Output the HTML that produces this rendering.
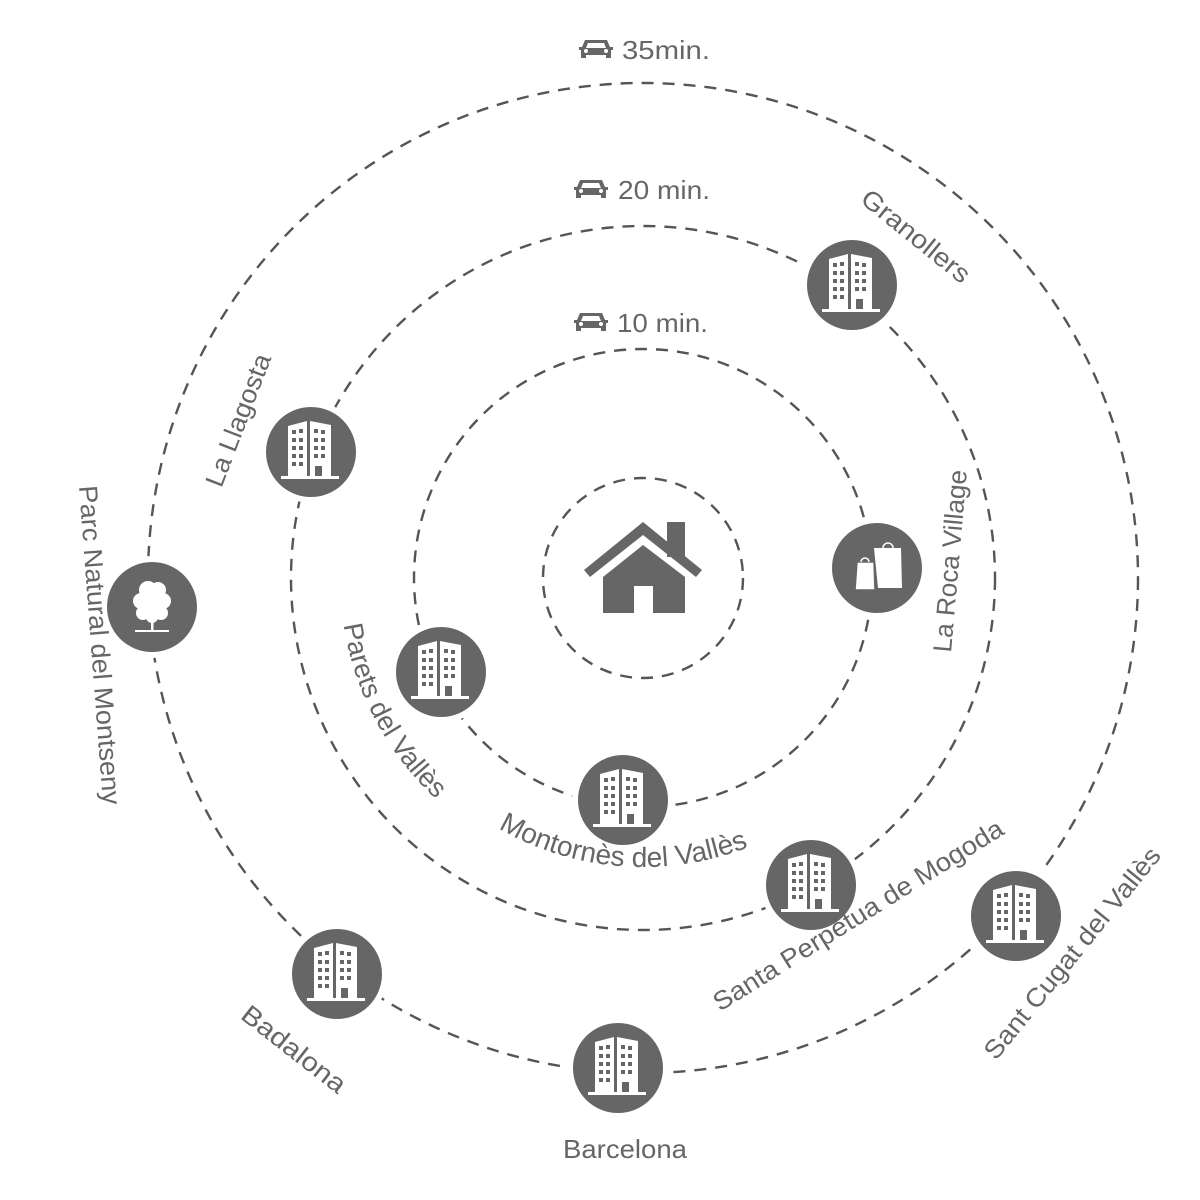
<!DOCTYPE html>
<html><head><meta charset="utf-8"><style>
html,body{margin:0;padding:0;background:#fff;}
svg{display:block;}
text{font-family:"Liberation Sans",sans-serif;fill:#666;font-size:26px;}
</style></head><body>
<svg width="1200" height="1200" viewBox="0 0 1200 1200" xmlns="http://www.w3.org/2000/svg">
<defs>
<g id="bld">
<circle r="48" fill="#666" stroke="#fff" stroke-width="6"/>
<path d="M-23,-26 L-4,-31 L-4,26 L-23,26 Z M-1,-31 L20,-27 L20,26 L11,26 L11,14 L4,14 L4,26 L-1,26 Z" fill="#fff"/>
<rect x="-30" y="24" width="58" height="3" fill="#fff"/>
<g fill="#666">
<rect x="-19" y="-22" width="4" height="4"/><rect x="-12" y="-23" width="4" height="4"/>
<rect x="-19" y="-14" width="4" height="4"/><rect x="-12" y="-14" width="4" height="4"/>
<rect x="-19" y="-6" width="4" height="4"/><rect x="-12" y="-6" width="4" height="4"/>
<rect x="-19" y="2" width="4" height="4"/><rect x="-12" y="2" width="4" height="4"/>
<rect x="-19" y="10" width="4" height="4"/><rect x="-12" y="10" width="4" height="4"/>
<rect x="3" y="-23" width="4" height="4"/><rect x="10" y="-22" width="4" height="4"/>
<rect x="3" y="-14" width="4" height="4"/><rect x="10" y="-14" width="4" height="4"/>
<rect x="3" y="-6" width="4" height="4"/><rect x="10" y="-6" width="4" height="4"/>
<rect x="3" y="2" width="4" height="4"/><rect x="10" y="2" width="4" height="4"/>
</g>
</g>
<g id="car" fill="#666">
<path d="M-11,-9 L11,-9 L14,-2 L17,-2 L17,1 L15,1 L15,9 L10,9 L10,6 L-10,6 L-10,9 L-15,9 L-15,1 L-17,1 L-17,-2 L-14,-2 Z"/>
<path d="M-8,-6 L8,-6 L10,-1 L-10,-1 Z" fill="#fff"/>
<circle cx="-10" cy="2" r="2" fill="#fff"/><circle cx="10" cy="2" r="2" fill="#fff"/>
</g>
<path id="pMon" d="M354,578 A289,289 0 0 0 932,578"/>
<path id="pPar" d="M340,578 A303,303 0 0 0 946,578"/>
</defs>
<g fill="none" stroke="#555" stroke-width="2.4" stroke-dasharray="12 9">
<circle cx="643" cy="578" r="100"/>
<circle cx="643" cy="578" r="229"/>
<circle cx="643" cy="578" r="352"/>
<circle cx="643" cy="578" r="495"/>
</g>
<!-- house -->
<g fill="#666">
<rect x="667" y="522" width="18" height="35"/>
<path d="M643,522 L702,570 L696,577 L643,535 L590,577 L584,570 Z"/>
<path d="M603,577 L643,545 L685,577 L685,613 L653,613 L653,586 L634,586 L634,613 L603,613 Z"/>
</g>
<!-- shopping -->
<g transform="translate(877,568)">
<circle r="48" fill="#666" stroke="#fff" stroke-width="6"/>
<path d="M-3,-20 L24,-20 L25,20 L1,20 Z" fill="#fff"/>
<path d="M6,-20 A5,5 0 0 1 16,-20" fill="none" stroke="#fff" stroke-width="1.5"/>
<path d="M-20,-6 L-3,-6 L-2,22 L-22,22 Z" fill="#fff" stroke="#666" stroke-width="1.5"/>
<path d="M-16,-6 A4,4 0 0 1 -8,-6" fill="none" stroke="#fff" stroke-width="1.5"/>
</g>
<!-- tree -->
<g transform="translate(152,607)">
<circle r="48" fill="#666" stroke="#fff" stroke-width="6"/>
<g fill="#fff">
<circle cx="-4" cy="-17" r="9"/><circle cx="6" cy="-17" r="8"/>
<circle cx="-11" cy="-6" r="8"/><circle cx="11" cy="-6" r="8"/>
<circle cx="-9" cy="6" r="7"/><circle cx="9" cy="6" r="7"/>
<circle cx="0" cy="-2" r="12"/><circle cx="0" cy="10" r="6"/>
<rect x="-1" y="10" width="2.5" height="14"/>
<rect x="-17" y="23" width="34" height="2"/>
</g>
</g>
<use href="#bld" x="852" y="285"/>
<use href="#bld" x="311" y="452"/>
<use href="#bld" x="441" y="672"/>
<use href="#bld" x="623" y="800"/>
<use href="#bld" x="811" y="885"/>
<use href="#bld" x="1016" y="916"/>
<use href="#bld" x="337" y="974"/>
<use href="#bld" x="618" y="1068"/>
<!-- time labels -->
<use href="#car" x="596" y="49"/>
<text x="622" y="59" textLength="88" lengthAdjust="spacingAndGlyphs">35min.</text>
<use href="#car" x="591" y="189"/>
<text x="618" y="199" textLength="92" lengthAdjust="spacingAndGlyphs">20 min.</text>
<use href="#car" x="591" y="322"/>
<text x="617" y="332" textLength="91" lengthAdjust="spacingAndGlyphs">10 min.</text>
<!-- place labels -->
<g dominant-baseline="central" text-anchor="middle">
<text transform="translate(916,236) rotate(39)" textLength="132" lengthAdjust="spacingAndGlyphs">Granollers</text>
<text transform="translate(238,420) rotate(-69)" textLength="140" lengthAdjust="spacingAndGlyphs">La Llagosta</text>
<text transform="translate(100,645) rotate(85.7)" textLength="320" lengthAdjust="spacingAndGlyphs">Parc Natural del Montseny</text>
<text transform="translate(950,561) rotate(-85)" textLength="183" lengthAdjust="spacingAndGlyphs">La Roca Village</text>
<text transform="translate(858,915) rotate(-32)" textLength="337" lengthAdjust="spacingAndGlyphs">Santa Perpètua de Mogoda</text>
<text transform="translate(1072,953) rotate(-51)" textLength="264" lengthAdjust="spacingAndGlyphs">Sant Cugat del Vallès</text>
<text transform="translate(294,1049) rotate(38)" textLength="125" lengthAdjust="spacingAndGlyphs">Badalona</text>
<text x="625" y="1149" textLength="124" lengthAdjust="spacingAndGlyphs">Barcelona</text>
</g>
<text text-anchor="middle" style="font-size:28px"><textPath href="#pMon" startOffset="47.6%">Montornès del Vallès</textPath></text>
<text text-anchor="middle" style="font-size:27px"><textPath href="#pPar" startOffset="15.5%">Parets del Vallès</textPath></text>
</svg>
</body></html>
